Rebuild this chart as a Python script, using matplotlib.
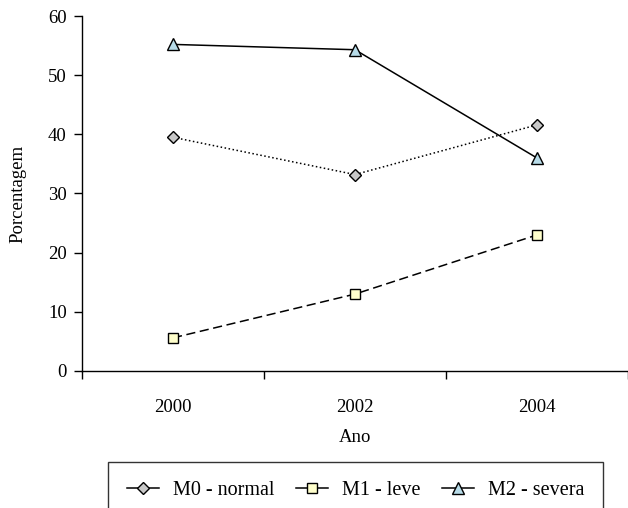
import matplotlib
matplotlib.use("Agg")
import matplotlib.pyplot as plt
from matplotlib.lines import Line2D

# data
anos = ["2000", "2002", "2004"]
m0_normal = [39.5, 33.2, 41.6]
m1_leve = [5.6, 13.0, 23.0]
m2_severa = [55.2, 54.3, 36.0]

plt.rcParams["font.family"] = ["Liberation Serif", "DejaVu Serif"]
plt.rcParams["font.size"] = 13.5

fig = plt.figure(figsize=(6.28, 5.08), dpi=100)
ax = fig.add_axes([0.1306, 0.2697, 0.8694, 0.6988])

x = list(range(len(anos)))

series = [
    (m0_normal, "M0 - normal", "D", ":", "#c8c8c8", 6.5),
    (m1_leve, "M1 - leve", "s", (0, (6, 3)), "#ffffcc", 7),
    (m2_severa, "M2 - severa", "^", "-", "#b7dbe8", 8),
]

handles = []
for vals, lab, mk, ls, fc, ms in series:
    ax.plot(x, vals, color="black", linestyle=ls, linewidth=1.1,
            marker=mk, markersize=ms, markerfacecolor=fc,
            markeredgecolor="black", markeredgewidth=1.0)
    handles.append(Line2D([], [], color="black", linestyle="-", linewidth=1.1,
                          marker=mk, markersize=ms, markerfacecolor=fc,
                          markeredgecolor="black", markeredgewidth=1.0,
                          label=lab))

ax.set_xlim(-0.5, len(anos) - 0.5)
ax.set_ylim(0, 60)
ax.set_yticks(range(0, 61, 10))

# category axis: ticks between categories, labels centred on them
ax.set_xticks([i - 0.5 for i in range(len(anos) + 1)])
ax.set_xticklabels([])
ax.set_xticks(x, minor=True)
ax.set_xticklabels(anos, minor=True)
ax.tick_params(axis="x", which="major", direction="out", length=6, width=1)
ax.tick_params(axis="x", which="minor", length=0, pad=20)
ax.tick_params(axis="y", direction="out", length=6, width=1, pad=5)

for s in ["top", "right"]:
    ax.spines[s].set_visible(False)
ax.spines["left"].set_linewidth(1)
ax.spines["bottom"].set_linewidth(1)

ax.set_xlabel("Ano", va="center")
ax.xaxis.set_label_coords(0.5, -0.186)
ax.set_ylabel("Porcentagem", va="center")
ax.yaxis.set_label_coords(-0.117, 0.5)

leg = fig.legend(handles=handles, loc="upper center", ncol=3,
                 bbox_to_anchor=(0.566, 0.0906), borderaxespad=0,
                 frameon=True, fancybox=False, edgecolor="black",
                 handlelength=1.6, handletextpad=0.7, columnspacing=1.05,
                 borderpad=0.95, fontsize=14.5)
leg.get_frame().set_linewidth(1)

fig.savefig("out.png", dpi=100)
